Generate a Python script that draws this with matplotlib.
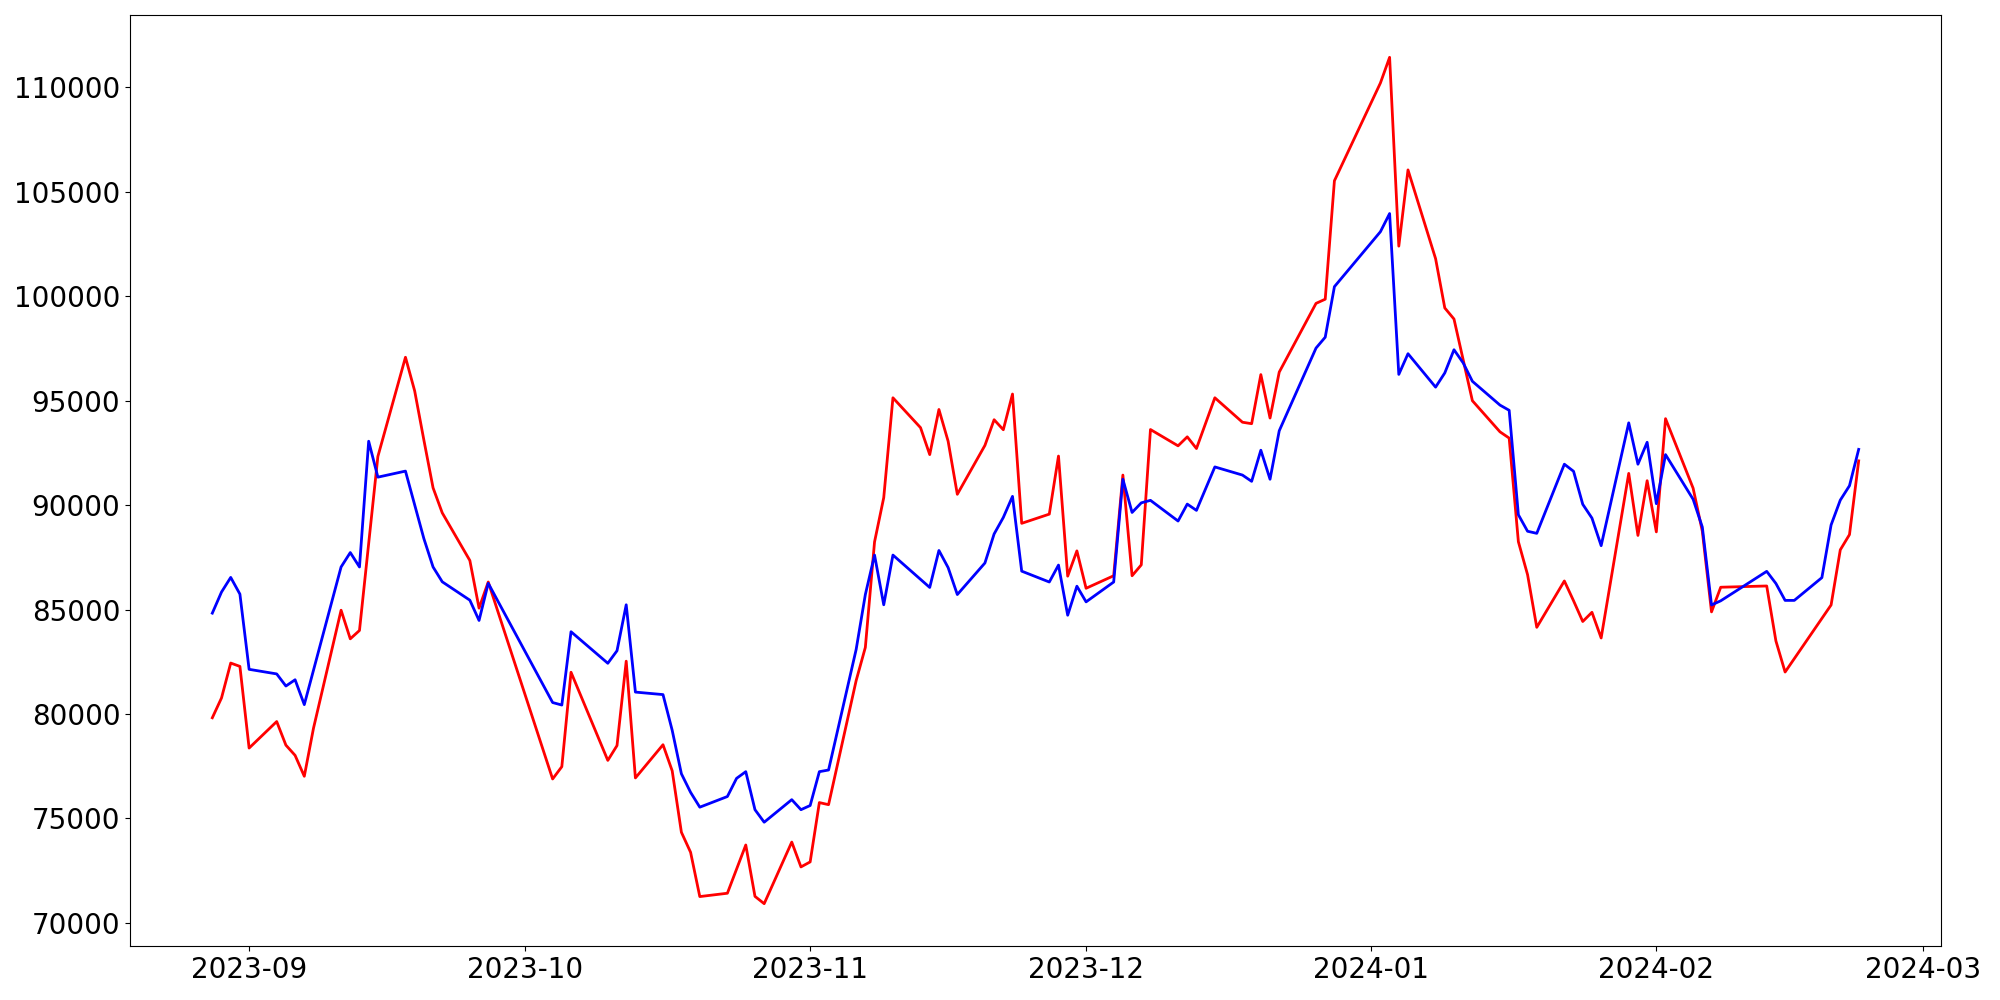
import numpy as np
import pandas as pd
import matplotlib
matplotlib.use("Agg")
import matplotlib.pyplot as plt

# trading days (KRX calendar) from 2023-08-28 to 2024-02-23
holidays = ['2023-09-28', '2023-09-29', '2023-10-02', '2023-10-03', '2023-10-09',
            '2023-12-25', '2023-12-29', '2024-01-01', '2024-02-09', '2024-02-12']
dates = pd.bdate_range('2023-08-28', '2024-02-23', freq='C', holidays=holidays)

# None = no value on that day
blue_vals = [
    84830, 85840, 86540, 85740,                                   # Aug
    82140, 81920, 81340, 81640, 80450, None, 87040, 87730, 87040, 93060,
    91340, 91630, None, 88400, 87040, 86330, 85450, 84480, 86260,  # Sep
    80550, 80430, 83940, 82430, 83030, 85230, 81050, 80930, 79220, 77140,
    76250, 75540, 76050, 76920, 77240, 75420, 74820, 75900, 75420,  # Oct
    75620, 77240, 77320, 83090, 85720, 87610, 85230, 87610, None, 86060,
    87830, 87010, 85720, 87230, 88620, 89410, 90420, 86840, 86320, 87130,
    84730, 86120,                                                  # Nov
    85370, 86320, 91240, 89650, 90110, 90230, 89240, 90050, 89750, None,
    91830, 91440, 91140, 92630, 91240, 93560, 97520, 98040, 100460,  # Dec
    103090, 103960, 96260, 97250, 95650, 96330, 97440, 96810, 95930, 94790,
    94540, 89540, 88750, 88650, 91960, 91620, 90040, 89380, 88060, 93940,
    91960, 93010,                                                  # Jan
    90070, 92420, 90280, 88950, 85220, 85420, 86830, 86250, 85440, 85440,
    86530, 89050, 90240, 90930, 92670,                             # Feb
]

red_vals = [
    79820, 80770, 82440, 82280,
    78370, 79640, 78510, 78020, 77020, 79320, 84970, 83600, 84000, None,
    92330, 97080, 95470, 93120, 90830, 89630, 87350, 85070, 86320,
    76890, 77480, 82000, 77780, 78490, 82530, 76940, 78530, 77280, 74340,
    73380, 71260, 71420, None, 73730, 71270, 70920, 73870, 72680,
    72920, 75760, 75660, 81600, 83190, 88240, 90360, 95140, 93710, 92420,
    94580, 93060, 90520, 92860, 94090, 93610, 95320, 89130, 89570, 92350,
    86600, 87810,
    86020, 86620, 91440, 86620, 87140, 93620, 92840, 93270, 92710, None,
    95140, 93970, 93900, 96250, 94170, 96370, 99660, 99860, 105530,
    110210, 111440, 102400, 106050, 101800, 99440, 98910, None, 95000, 93510,
    93210, 88250, 86670, 84150, 86370, 85420, 84430, 84870, 83640, 91520,
    88550, 91170,
    88720, 94140, 90810, 88750, 84890, 86070, 86130, 83500, 82010, None,
    None, 85220, 87860, 88590, 92120,
]

assert len(dates) == len(blue_vals) == len(red_vals)

fig = plt.figure(figsize=(20, 10), dpi=100)
ax = fig.add_axes([0.065, 0.054, 0.9055, 0.931])

for vals, col in [(red_vals, 'red'), (blue_vals, 'blue')]:
    s = pd.Series(vals, index=dates, dtype=float).dropna()
    ax.plot(s.index, s.values, color=col, linewidth=2)

ax.tick_params(labelsize=20)

fig.savefig('out.png')
